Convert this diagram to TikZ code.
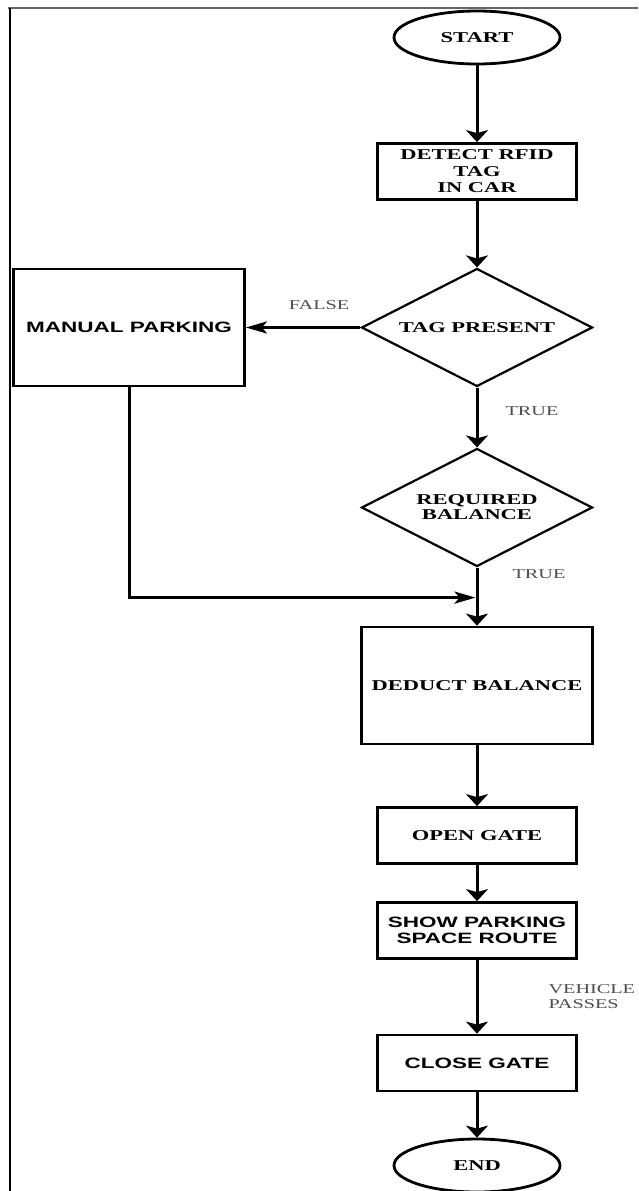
\documentclass[tikz,border=0pt]{standalone}
\usepackage{fontspec}
\usepackage{tikz}
\usetikzlibrary{shapes.geometric, arrows.meta, positioning}
\newfontfamily\boxserif[FakeStretch=1.5]{Liberation Serif}
\newfontfamily\boxsans[FakeStretch=1.5]{Liberation Sans}
\tikzstyle{startstop} = [ellipse, minimum width=166pt, minimum height=53pt, inner sep=0pt, draw=black, line width=2.8pt, font=\boxserif\bfseries\fontsize{15pt}{16.5pt}\selectfont]
\tikzstyle{process} = [rectangle, minimum width=199pt, minimum height=56pt, inner sep=0pt, align=center, draw=black, line width=2.8pt, font=\boxserif\bfseries\fontsize{15pt}{16.5pt}\selectfont]
\tikzstyle{sansprocess} = [process, font=\boxsans\bfseries\fontsize{15pt}{15.5pt}\selectfont]
\tikzstyle{bigprocess} = [process, minimum width=231pt, minimum height=117pt]
\tikzstyle{bigsans} = [bigprocess, font=\boxsans\bfseries\fontsize{15pt}{15.5pt}\selectfont]
\tikzstyle{decision} = [diamond, aspect=1.96, minimum width=231pt, minimum height=118pt, inner sep=0pt, align=center, draw=black, line width=2.2pt, font=\boxserif\bfseries\fontsize{15pt}{15pt}\selectfont]
\tikzstyle{lbl} = [inner sep=0pt, align=left, text=black!70, font=\boxserif\fontsize{13.5pt}{15pt}\selectfont]
\tikzstyle{arrow} = [line width=3pt,-{Stealth[length=12pt,width=22pt,inset=3pt]}]
\tikzstyle{harrow} = [line width=3pt,-{Stealth[length=21pt,width=12pt,inset=5pt]}]

\begin{document}
\begin{tikzpicture}[node distance=150pt, x=1pt, y=1pt]
\useasboundingbox (0,0) rectangle (638,-1191);
% page frame
\draw[line width=1.5pt, black!60] (8,-8) -- (638,-8);
\draw[line width=2.2pt] (10,-8) -- (10,-1191);

\node(start)[startstop] at (477,-37.5){START};
\node(detect)[process, below of=start, yshift=16pt]{DETECT RFID\\TAG\\IN CAR};
\draw[arrow] (start) -- (detect);
\node(tag)[decision, below of=detect, yshift=-6pt]{TAG PRESENT};
\draw[arrow] (detect) -- (tag);
\node(manual)[bigsans, left of=tag, xshift=-198pt]{MANUAL PARKING};
\draw[harrow] (tag) -- node[lbl, above=16pt, pos=0.36]{FALSE} (manual);
\node(balance)[decision, below of=tag, yshift=-30pt]{REQUIRED\\BALANCE};
\draw[arrow] (tag) -- node[lbl, right=27pt, pos=0.39]{TRUE} (balance);
\node(deduct)[bigprocess, below of=balance, yshift=-28pt]{DEDUCT BALANCE};
\draw[arrow] (balance) -- node[lbl, right=34pt, pos=0.11]{TRUE} (deduct);
\coordinate(join) at ([xshift=-1.5pt, yshift=-30pt]balance.south);
\draw[harrow] (manual) |- (join);
\node(open)[process, below of=deduct]{OPEN GATE};
\draw[arrow] (deduct) -- (open);
\node(show)[sansprocess, below of=open, yshift=55pt]{SHOW PARKING\\SPACE ROUTE};
\draw[arrow] (open) -- (show);
\node(close)[sansprocess, below of=show, yshift=17.5pt]{CLOSE GATE};
\draw[arrow] (show) -- node[lbl, right=70pt]{VEHICLE\\PASSES} (close);
\node(end)[startstop, below of=close, yshift=47.5pt]{END};
\draw[arrow] (close) -- (end);
\end{tikzpicture}
\end{document}
